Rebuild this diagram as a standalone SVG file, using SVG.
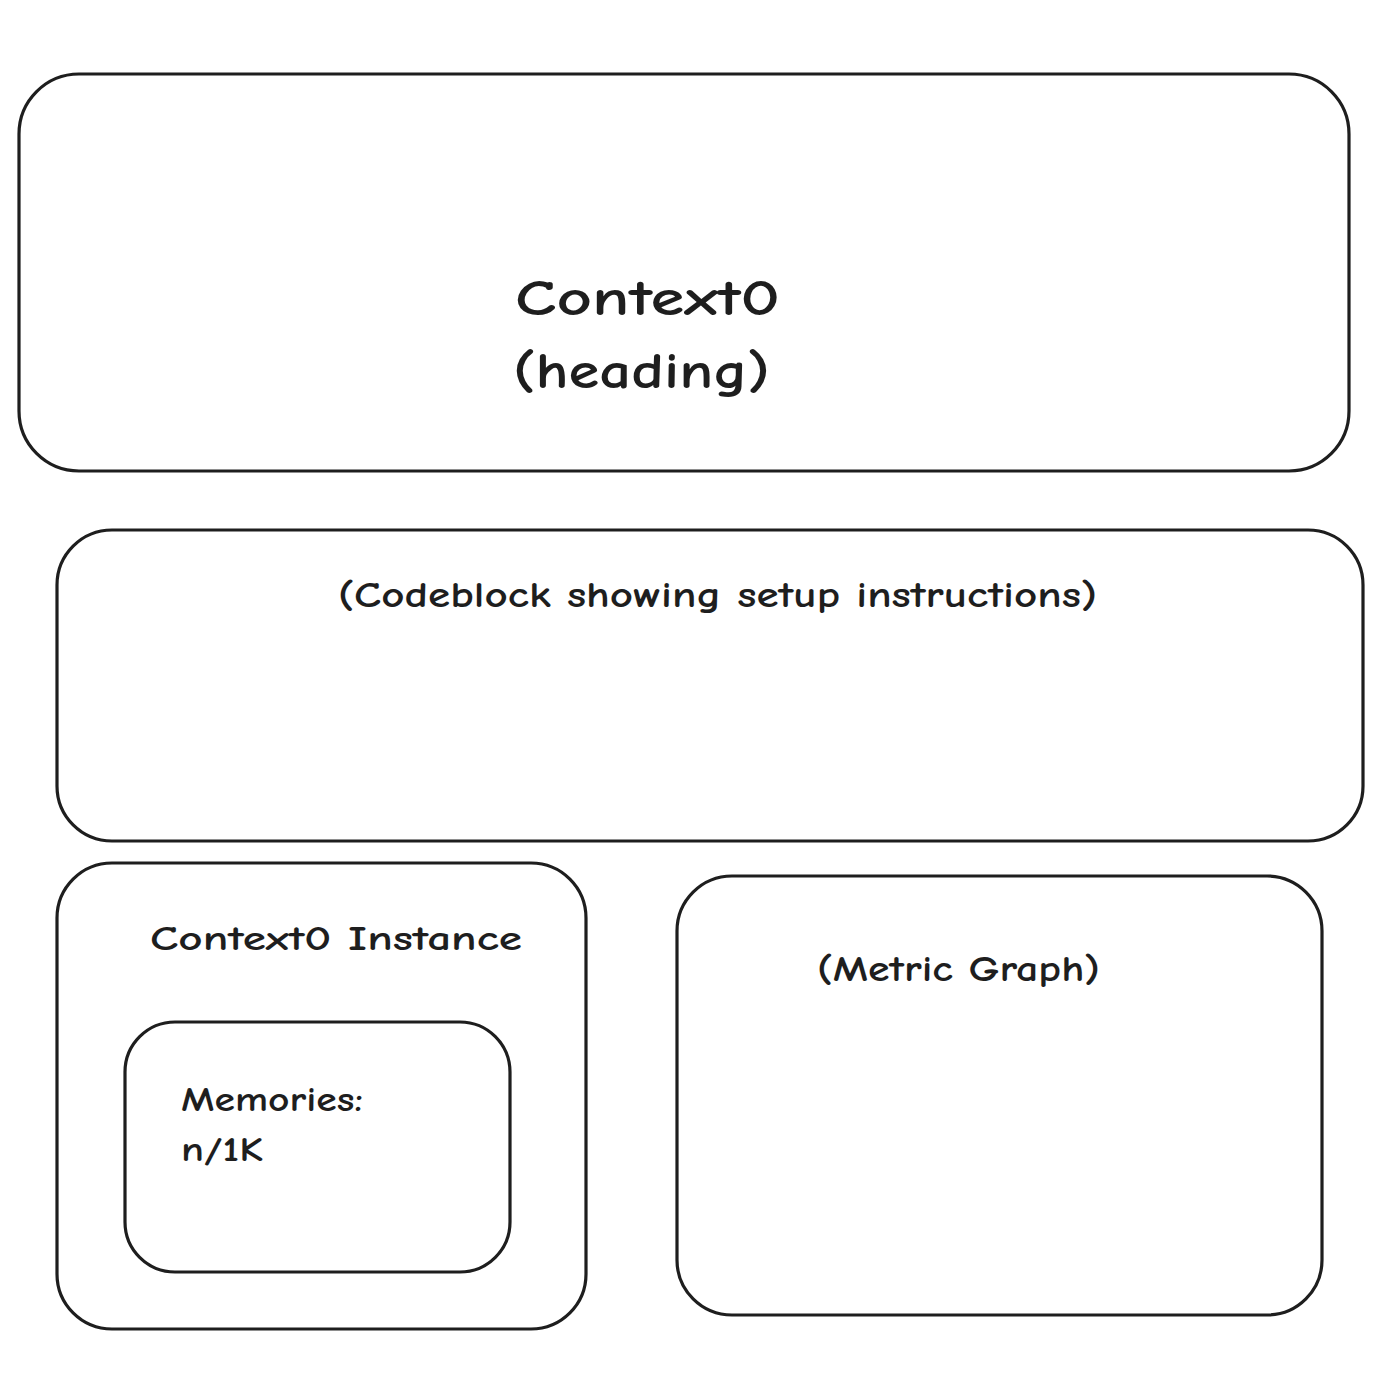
<svg xmlns="http://www.w3.org/2000/svg" width="1382" height="1374" viewBox="0 0 1382 1374">
<style>
.box{fill:none;stroke:#1e1e1e;stroke-width:3.2;stroke-linejoin:round}
.t{font-family:"Comic Neue","Liberation Sans","DejaVu Sans",sans-serif;font-weight:bold;fill:#1e1e1e}
</style>
<rect width="1382" height="1374" fill="#ffffff"/>
<g id="heading">
<rect class="box" x="19" y="74" width="1330" height="397" rx="60" ry="60"/>
<text class="t" x="515" y="315" font-size="50" textLength="265" lengthAdjust="spacingAndGlyphs">Context0</text>
<text class="t" x="513" y="388" font-size="50" textLength="257" lengthAdjust="spacingAndGlyphs">(heading)</text>
</g>
<g id="codeblock">
<rect class="box" x="57" y="530" width="1306" height="311" rx="55" ry="55"/>
<text class="t" x="338" y="607" font-size="36" textLength="759" lengthAdjust="spacingAndGlyphs">(Codeblock showing setup instructions)</text>
</g>
<g id="instance">
<rect class="box" x="57" y="863" width="529" height="466" rx="55" ry="55"/>
<text class="t" x="150" y="950" font-size="34" textLength="372" lengthAdjust="spacingAndGlyphs">Context0 Instance</text>
</g>
<g id="memories">
<rect class="box" x="125" y="1022" width="385" height="250" rx="50" ry="50"/>
<text class="t" x="181" y="1111" font-size="34" textLength="182" lengthAdjust="spacingAndGlyphs">Memories:</text>
<text class="t" x="181" y="1161" font-size="34" textLength="82" lengthAdjust="spacingAndGlyphs">n/1K</text>
</g>
<g id="metric">
<rect class="box" x="677" y="876" width="645" height="439" rx="55" ry="55"/>
<text class="t" x="817" y="981" font-size="36" textLength="283" lengthAdjust="spacingAndGlyphs">(Metric Graph)</text>
</g>
<g id="connectors"></g>
</svg>
